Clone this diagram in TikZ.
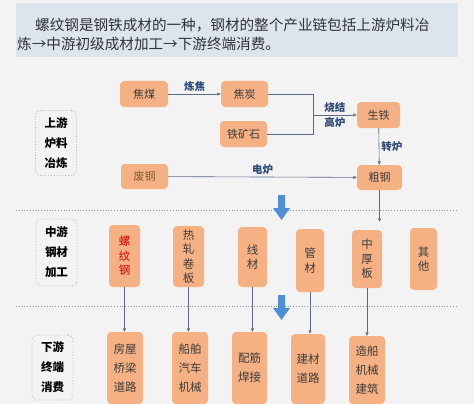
\documentclass[tikz,border=0pt]{standalone}
\usepackage{fontspec}
\setmainfont{Noto Sans CJK SC}
\usepackage{xcolor}
\usetikzlibrary{calc, arrows.meta}

\definecolor{boxfill}{HTML}{F5B183}
\definecolor{boxtext}{HTML}{3C3C3C}
\definecolor{linecol}{HTML}{5B6B82}
\definecolor{lblcol}{HTML}{2E4A78}
\definecolor{bigarrow}{HTML}{4F8FD4}
\definecolor{headfill}{HTML}{DCE4EE}
\definecolor{bgcol}{HTML}{F3F3F3}

% thick blue arrow pointing down, top centre at #1
\newcommand{\bigdown}[1]{%
  \fill[bigarrow] (#1) ++(-3.5,0) -- ++(7,0) -- ++(0,13) -- ++(5,0)
    -- ++(-8.5,12) -- ++(-8.5,-12) -- ++(5,0) -- cycle;}

\begin{document}
\begin{tikzpicture}[
      x=1pt, y=-1pt,
      box/.style={fill=boxfill, rounded corners=4pt, text=boxtext, align=center,
                  inner sep=0pt, font=\fontsize{11}{14}\selectfont},
      vbox/.style={box, font=\fontsize{11.5}{14.5}\selectfont},
      dbox/.style={box, font=\fontsize{11.5}{19}\selectfont},
      stage/.style={draw=gray!60, dotted, thick, rounded corners=5pt, align=center,
                    minimum width=41pt, minimum height=65pt, inner sep=0pt,
                    font=\fontsize{11.5}{20}\selectfont\bfseries},
      arr/.style={-{Triangle[length=3.5pt, width=3pt]}, linecol, semithick},
      lnk/.style={linecol, semithick},
      lbl/.style={text=lblcol, font=\fontsize{10.5}{12}\selectfont\bfseries, inner sep=2pt},
      sep/.style={draw=linecol!70, dotted, thick}
    ]
    \fill[bgcol] (0,0) rectangle (474,404);
    \useasboundingbox (0,0) rectangle (474,404);

    % intro text
    \fill[headfill] (16,3) rectangle (458,57);
    \node[anchor=west, align=left, inner sep=0pt, text=black!80,
          font=\fontsize{14.6}{19}\selectfont] (intro) at (17,34.5)
      {\hspace*{18pt}螺纹钢是钢铁成材的一种，钢材的整个产业链包括上游炉料冶\\
       炼→中游初级成材加工→下游终端消费。};

    % upstream
    \node[stage] (up) at (56,143) {上游\\炉料\\冶炼};
    \node[box, minimum width=48pt, minimum height=26pt] (cm)  at (144,94)    {焦煤};
    \node[box, minimum width=47pt, minimum height=26pt] (jt)  at (244.5,94)  {焦炭};
    \node[box, minimum width=47pt, minimum height=26pt] (tks) at (243.5,134) {铁矿石};
    \node[box, minimum width=43pt, minimum height=26pt] (st)  at (378.5,115) {生铁};
    \node[box, minimum width=47pt, minimum height=25pt, text=brown!70!black] (fg)
      at (144.5,176.5) {废钢};
    \node[box, minimum width=45pt, minimum height=25pt] (cg)  at (379.5,177.5) {粗钢};
    \coordinate (join) at (313,115);

    \draw[arr] (cm) -- node[lbl, above] {炼焦} (jt);
    \draw[lnk] (jt.east) -| (join);
    \draw[lnk] (tks.east) -| (join);
    \draw[arr] (join) -- node[lbl, above] {烧结} node[lbl, below] {高炉} (st);
    \draw[arr] (st) -- node[lbl, right] {转炉} (cg);
    \draw[arr] (fg) -- node[lbl, above] {电炉} (cg);

    \draw[sep] (16,210) -- (457,210);
    \coordinate (a1) at (281.5,195);
    \bigdown{a1}

    % midstream
    \node[stage, minimum height=67pt] (mid) at (56.5,252.5) {中游\\钢材\\加工};
    \node[vbox, minimum width=31pt, minimum height=62pt, text=red!85!black] (lwg)
      at (124.5,256) {螺\\纹\\钢};
    \node[vbox, minimum width=31pt, minimum height=61pt] (rzjb) at (188.5,256.5) {热\\轧\\卷\\板};
    \node[vbox, minimum width=29pt, minimum height=60pt] (xc)   at (252.5,257)   {线\\材};
    \node[vbox, minimum width=28pt, minimum height=63pt] (gc)   at (310,260.5)   {管\\材};
    \node[vbox, minimum width=30pt, minimum height=58pt] (zhb)  at (367,259)     {中\\厚\\板};
    \node[vbox, minimum width=27pt, minimum height=62pt] (qt)   at (423.5,259)   {其\\他};

    \draw[arr, shorten >=8pt] (cg.south) -- (cg.south |- zhb.north);

    \draw[sep] (16,306) -- (457,306);
    \coordinate (a2) at (281.5,295);
    \bigdown{a2}

    % downstream
    \node[stage] (dn) at (52.5,367.5) {下游\\终端\\消费};
    \node[dbox, minimum width=36pt, minimum height=72pt] (fw) at (125,368)   {房屋\\桥梁\\道路};
    \node[dbox, minimum width=36pt, minimum height=72pt] (cb) at (190,368)   {船舶\\汽车\\机械};
    \node[dbox, minimum width=35pt, minimum height=72pt] (pj) at (249.5,368) {配筋\\焊接};
    \node[dbox, minimum width=34pt, minimum height=70pt] (jc) at (308,369)   {建材\\道路};
    \node[dbox, minimum width=36pt, minimum height=68pt] (zc) at (367,370)   {造船\\机械\\建筑};

    \draw[arr] (lwg)  -- (lwg.south |- fw.north);
    \draw[arr] (rzjb) -- (rzjb.south |- cb.north);
    \draw[arr] (xc)   -- (xc.south |- pj.north);
    \draw[arr] (gc)   -- (gc.south |- jc.north);
    \draw[arr] (zhb)  -- (zhb.south |- zc.north);
  \end{tikzpicture}
\end{document}
